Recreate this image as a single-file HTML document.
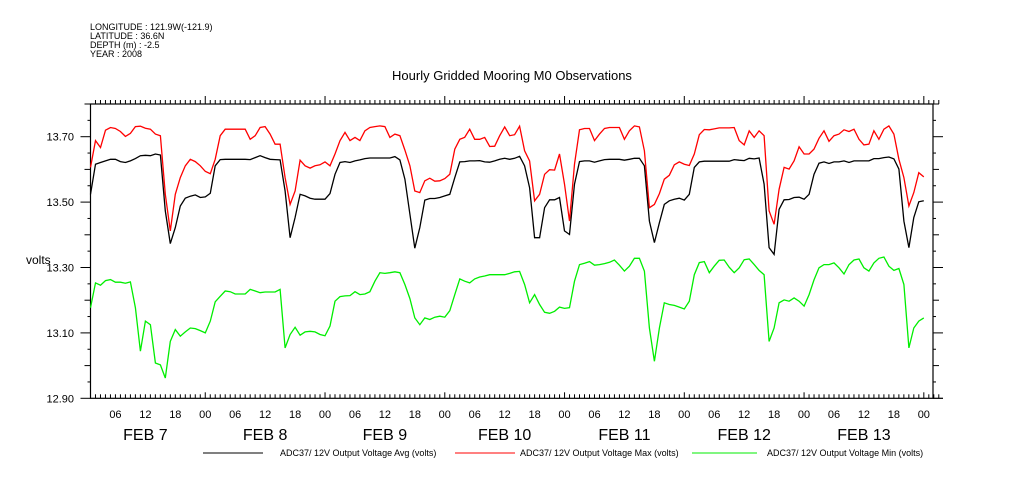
<!DOCTYPE html>
<html><head><meta charset="utf-8"><style>
body{margin:0;background:#fff;}
svg{display:block;font-family:"Liberation Sans",sans-serif;}
</style></head><body>
<svg id="chart" width="1009" height="504" viewBox="0 0 1009 504" xmlns="http://www.w3.org/2000/svg">
<rect width="1009" height="504" fill="#fff"/>
<g font-size="9" fill="#000">
<text x="90" y="30">LONGITUDE : 121.9W(-121.9)</text>
<text x="90" y="39">LATITUDE : 36.6N</text>
<text x="90" y="48">DEPTH (m) : -2.5</text>
<text x="90" y="57">YEAR : 2008</text>
</g>
<text x="512" y="80" font-size="13" text-anchor="middle">Hourly Gridded Mooring M0 Observations</text>
<text x="26" y="264" font-size="12">volts</text>
<g id="axes"></g>
<g id="series"></g>
<g font-size="9">
<line x1="203" y1="453" x2="263" y2="453" stroke="#000"/>
<text x="280" y="456">ADC37/ 12V Output Voltage Avg (volts)</text>
<line x1="455" y1="453" x2="515" y2="453" stroke="#f00"/>
<text x="520" y="456">ADC37/ 12V Output Voltage Max (volts)</text>
<line x1="692" y1="453" x2="757" y2="453" stroke="#0e0"/>
<text x="767" y="456">ADC37/ 12V Output Voltage Min (volts)</text>
</g>
</svg>
<script>
const yTicks=[12.90,13.10,13.30,13.50,13.70];
const hourLabels=["06","12","18","00"];
const dayLabels=["FEB  7","FEB  8","FEB  9","FEB 10","FEB 11","FEB 12","FEB 13"];
const maxV=[13.606,13.688,13.667,13.720,13.728,13.725,13.716,13.701,13.710,13.731,13.732,13.726,13.723,13.708,13.703,13.524,13.412,13.524,13.575,13.611,13.631,13.624,13.611,13.594,13.587,13.631,13.703,13.723,13.723,13.723,13.723,13.723,13.692,13.703,13.728,13.731,13.708,13.677,13.677,13.575,13.493,13.534,13.628,13.611,13.604,13.611,13.614,13.623,13.611,13.647,13.688,13.713,13.688,13.698,13.688,13.718,13.728,13.731,13.733,13.731,13.698,13.708,13.703,13.659,13.611,13.534,13.529,13.565,13.573,13.564,13.565,13.572,13.585,13.662,13.692,13.698,13.723,13.692,13.692,13.698,13.670,13.671,13.703,13.730,13.703,13.706,13.732,13.657,13.626,13.504,13.524,13.585,13.599,13.598,13.647,13.555,13.442,13.616,13.721,13.725,13.725,13.688,13.708,13.725,13.728,13.728,13.728,13.692,13.718,13.733,13.730,13.657,13.483,13.493,13.526,13.570,13.582,13.614,13.623,13.616,13.612,13.647,13.706,13.722,13.721,13.724,13.727,13.727,13.727,13.728,13.688,13.675,13.718,13.698,13.718,13.703,13.473,13.432,13.539,13.606,13.601,13.626,13.669,13.647,13.647,13.662,13.695,13.718,13.686,13.703,13.708,13.721,13.716,13.723,13.692,13.675,13.677,13.718,13.692,13.723,13.733,13.708,13.631,13.575,13.488,13.529,13.590,13.577];
const avgV=[13.524,13.616,13.621,13.626,13.631,13.631,13.624,13.621,13.626,13.633,13.642,13.643,13.642,13.647,13.644,13.473,13.373,13.422,13.488,13.512,13.518,13.522,13.514,13.516,13.527,13.611,13.630,13.631,13.631,13.631,13.631,13.631,13.630,13.636,13.642,13.636,13.631,13.630,13.629,13.534,13.391,13.453,13.524,13.519,13.512,13.509,13.509,13.509,13.526,13.585,13.621,13.624,13.621,13.626,13.629,13.633,13.635,13.635,13.635,13.635,13.635,13.639,13.629,13.570,13.463,13.359,13.422,13.506,13.511,13.511,13.514,13.519,13.524,13.575,13.623,13.624,13.626,13.626,13.627,13.623,13.622,13.626,13.631,13.634,13.631,13.634,13.640,13.611,13.544,13.391,13.391,13.483,13.507,13.507,13.514,13.412,13.401,13.555,13.624,13.626,13.626,13.622,13.626,13.630,13.631,13.631,13.631,13.628,13.631,13.634,13.634,13.611,13.442,13.376,13.437,13.493,13.504,13.509,13.512,13.506,13.524,13.606,13.623,13.625,13.625,13.625,13.625,13.625,13.625,13.630,13.628,13.627,13.634,13.632,13.635,13.555,13.361,13.340,13.478,13.507,13.508,13.514,13.515,13.509,13.524,13.585,13.619,13.623,13.618,13.623,13.623,13.626,13.621,13.626,13.626,13.626,13.626,13.633,13.633,13.636,13.638,13.632,13.601,13.442,13.361,13.453,13.501,13.504];
const minV=[13.177,13.253,13.246,13.260,13.263,13.255,13.255,13.252,13.256,13.177,13.044,13.136,13.125,13.008,13.002,12.962,13.074,13.110,13.090,13.103,13.115,13.113,13.107,13.100,13.136,13.195,13.212,13.228,13.226,13.219,13.219,13.219,13.233,13.228,13.223,13.225,13.225,13.225,13.233,13.054,13.095,13.117,13.093,13.103,13.105,13.103,13.095,13.091,13.121,13.197,13.211,13.213,13.214,13.226,13.217,13.219,13.226,13.258,13.284,13.282,13.284,13.287,13.284,13.248,13.205,13.146,13.125,13.146,13.141,13.148,13.151,13.148,13.168,13.217,13.265,13.258,13.253,13.265,13.271,13.274,13.278,13.278,13.278,13.278,13.282,13.287,13.288,13.248,13.192,13.217,13.187,13.163,13.160,13.166,13.179,13.175,13.177,13.258,13.309,13.313,13.318,13.307,13.309,13.312,13.316,13.323,13.307,13.289,13.304,13.328,13.328,13.289,13.115,13.013,13.115,13.192,13.187,13.184,13.179,13.173,13.197,13.278,13.315,13.318,13.284,13.304,13.322,13.323,13.301,13.284,13.299,13.324,13.326,13.309,13.291,13.278,13.074,13.115,13.192,13.201,13.197,13.207,13.197,13.182,13.217,13.262,13.299,13.309,13.309,13.314,13.299,13.280,13.309,13.323,13.326,13.299,13.289,13.314,13.328,13.332,13.304,13.291,13.297,13.248,13.054,13.115,13.136,13.146];

const NS='http://www.w3.org/2000/svg';
const L=90.5,R=933,T=104,B=398.3;
const X0=85.5,HW=4.99;
function xs(h){return X0+HW*h;}
function ys(v){return B-(v-12.9)*(B-T)/0.9;}
function mk(tag,attrs,parent){const e=document.createElementNS(NS,tag);for(const k in attrs)e.setAttribute(k,attrs[k]);parent.appendChild(e);return e;}
const ax=document.getElementById('axes');
const frame=mk('rect',{x:L,y:T,width:R-L,height:B-T,fill:'none',stroke:'#000','stroke-width':1.2},ax);


mk('line',{x1:R,y1:B,x2:943,y2:B,stroke:'#000'},ax);
// x ticks
for(let h=1;h<=171;h++){
  const x=xs(h);if(x<L||x>940)continue;
  const major=h%24===0;
  mk('line',{x1:x,y1:B,x2:x,y2:B-(major?6:4),stroke:'#000'},ax);
  mk('line',{x1:x,y1:T,x2:x,y2:T-(major?8:4),stroke:'#000'},ax);
  if(h%6===0){
    const t=mk('text',{x:x,y:418,'font-size':11,'text-anchor':'middle'},ax);
    t.textContent=hourLabels[(h/6-1)%4];
    
    
  }
}
dayLabels.forEach((d,i)=>{
  const t=mk('text',{x:xs(24*i+12),y:440,'font-size':16,'text-anchor':'middle'},ax);
  t.textContent=d;
  
  
});
// y ticks
for(let k=0;k<=18;k++){
  const v=12.9+k*0.05;const y=ys(v);const major=k%4===0;const mid=k%2===0;
  const len=major?10:(mid?6:3);
  mk('line',{x1:L-len,y1:y,x2:L,y2:y,stroke:'#000'},ax);
  mk('line',{x1:R,y1:y,x2:R+len,y2:y,stroke:'#000'},ax);
}
yTicks.forEach(v=>{
  const t=mk('text',{x:74,y:ys(v)+4,'font-size':11,'text-anchor':'end'},ax);
  t.textContent=v.toFixed(2);
  
  
});
// series
const sg=document.getElementById('series');
function line(arr,color,name){
  const pts=arr.map((v,i)=>xs(i+1).toFixed(1)+','+ys(v).toFixed(1)).join(' ');
  const p=mk('polyline',{points:pts,fill:'none',stroke:color,'stroke-width':1.3},sg);
  
  
}
line(minV,'#00ee00','min-voltage-line');
line(maxV,'#ff0000','max-voltage-line');
line(avgV,'#000000','avg-voltage-line');
</script>
</body></html>
